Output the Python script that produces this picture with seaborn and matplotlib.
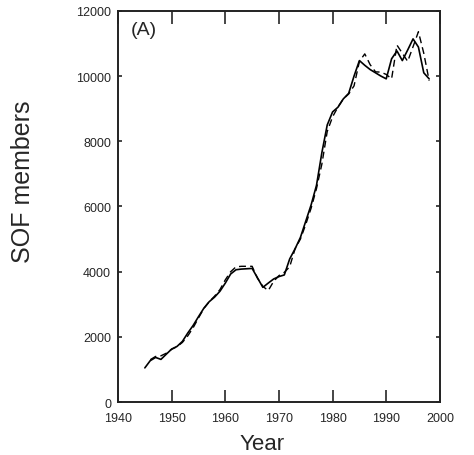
import numpy as np
import pandas as pd
import matplotlib
matplotlib.use("Agg")
import matplotlib.pyplot as plt
import seaborn as sns

# observed membership (solid line), 1945-1998
obs_years = list(range(1945, 1999))
obs_members = [1050, 1270, 1370, 1310, 1470, 1627, 1708, 1862, 2118, 2350,
               2620, 2880, 3080, 3220, 3400, 3650, 3930, 4060, 4080, 4090,
               4100, 3810, 3520, 3650, 3775, 3850, 3900, 4390, 4700, 5050,
               5550, 6050, 6650, 7650, 8500, 8900, 9045, 9300, 9470, 10000,
               10475, 10330, 10200, 10100, 10000, 9915, 10530, 10770, 10475, 10800,
               11140, 10890, 10100, 9915]

# model membership (dashed line), 1946-1998
mod_years = list(range(1946, 1999))
mod_members = [1300, 1400, 1420, 1500, 1620, 1700, 1830, 2030, 2280, 2580,
               2870, 3080, 3250, 3450, 3750, 4000, 4150, 4165, 4165, 4165,
               3800, 3550, 3420, 3700, 3880, 3980, 4150, 4700, 5000, 5450,
               5950, 6550, 7300, 8300, 8750, 9050, 9300, 9450, 9700, 10450,
               10680, 10350, 10130, 10120, 10050, 9915, 10950, 10700, 10450, 10900,
               11360, 10700, 9860]

df_obs = pd.DataFrame({"Year": obs_years, "Members": obs_members})
df_mod = pd.DataFrame({"Year": mod_years, "Members": mod_members})

sns.set_style("ticks")
plt.rcParams['font.family'] = ['Liberation Sans', 'DejaVu Sans']

fig = plt.figure(figsize=(4.74, 4.56), dpi=100)
ax = fig.add_axes([0.249, 0.116, 0.679, 0.858])

sns.lineplot(data=df_mod, x="Year", y="Members", ax=ax, color="black",
             linewidth=1.0, linestyle=(0, (5, 3)))
sns.lineplot(data=df_obs, x="Year", y="Members", ax=ax, color="black",
             linewidth=1.2)

ax.set_xlim(1940, 2000)
ax.set_ylim(0, 12000)
ax.set_xticks(range(1940, 2001, 10))
ax.set_yticks(range(0, 12001, 2000))
for s in ax.spines.values():
    s.set_visible(True)
    s.set_linewidth(1.4)
    s.set_color("#222222")
ax.tick_params(axis="x", direction="in", length=9, width=1.2, top=True,
               labelsize=9, pad=7)
ax.tick_params(axis="y", direction="in", length=3, width=1.2, right=True,
               labelsize=9, pad=5)
ax.set_xlabel("Year", fontsize=16)
ax.set_ylabel("SOF members", fontsize=18, va="center")
ax.xaxis.set_label_coords(0.447, -0.078)
ax.yaxis.set_label_coords(-0.295, 0.565)
ax.text(0.04, 0.975, "(A)", transform=ax.transAxes, fontsize=14,
        ha="left", va="top")

fig.savefig("out.png", dpi=100)
